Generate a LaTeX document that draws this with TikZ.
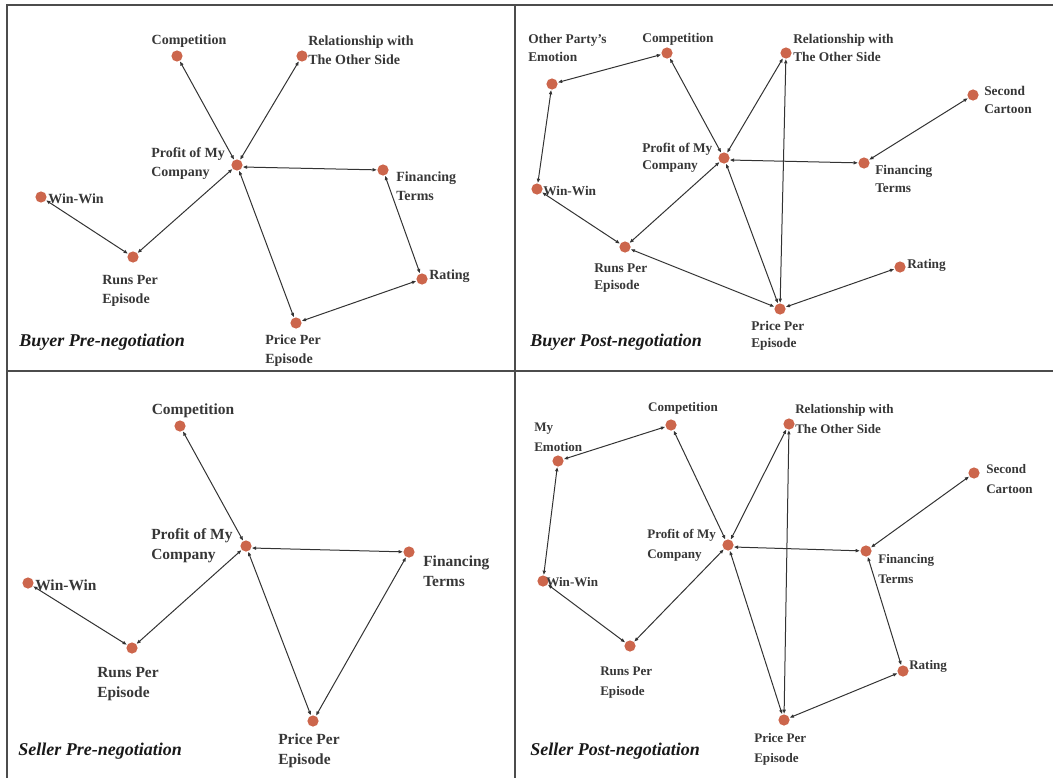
\documentclass[tikz,border=0pt]{standalone}
\usepackage{fontspec}
\setmainfont{Liberation Serif}
\usetikzlibrary{arrows.meta}
\definecolor{dotred}{RGB}{204,102,76}
\definecolor{inkgray}{RGB}{55,55,55}
\tikzset{
  concept/.style={circle,fill=dotred,inner sep=0pt,minimum size=8.4pt},
  tag/.style={text=inkgray,font=\bfseries,align=left,inner sep=0pt,anchor=west},
  link/.style={{Latex[length=3.4pt,width=2.8pt]}-{Latex[length=3.4pt,width=2.8pt]},draw=black!80,line width=0.75pt},
  panelframe/.style={draw=black!70,line width=1.4pt},
  heading/.style={text=black!90,font=\fontsize{13.5}{16}\selectfont\bfseries\itshape,inner sep=0pt,anchor=west}
}
\begin{document}
\begin{tikzpicture}[x=0.75pt,y=-0.75pt]
\useasboundingbox (0,0) rectangle (1053,778);
% frame of the four panels
\draw[panelframe] (6,5) -- (1053,5);
\draw[panelframe] (7,5) -- (7,778);
\draw[panelframe] (515,5) -- (515,778);
\draw[panelframe] (7,371) -- (1053,371);

% Buyer pre-negotiation
\begin{scope}[tag/.append style={font=\fontsize{10.5}{14.25}\selectfont\bfseries}]
\node[concept] (bpComp) at (177,56) {};
\node[concept] (bpRel) at (302,56) {};
\node[concept] (bpProf) at (237,165) {};
\node[concept] (bpFin) at (383,170) {};
\node[concept] (bpWin) at (41,197) {};
\node[concept] (bpRuns) at (133,257) {};
\node[concept] (bpRating) at (422,279) {};
\node[concept] (bpPrice) at (296,323) {};
\node[tag,anchor=center] (bpCompT) at (189,41) {Competition};
\node[tag] (bpRelT) at (308,50) {Relationship with\\The Other Side};
\node[tag] (bpProfT) at (151,164) {Profit of My\\Company};
\node[tag] (bpFinT) at (396,186.5) {Financing\\Terms};
\node[tag] (bpWinT) at (48,199) {Win-Win};
\node[tag] (bpRunsT) at (102,290.5) {Runs Per\\Episode};
\node[tag] (bpRatingT) at (429,276) {Rating};
\node[tag] (bpPriceT) at (265,351) {Price Per\\Episode};
\node[heading] (bpHead) at (19,342) {Buyer Pre-negotiation};
\draw[link] (bpProf) -- (bpComp);
\draw[link] (bpProf) -- (bpRel);
\draw[link] (bpProf.-20) -- (bpFin);
\draw[link] (bpProf) -- (bpRuns);
\draw[link] (bpProf) -- (bpPrice);
\draw[link] (bpWin) -- (bpRuns);
\draw[link] (bpFin) -- (bpRating);
\draw[link] (bpRating) -- (bpPrice);
\end{scope}

% Buyer post-negotiation
\begin{scope}[tag/.append style={font=\fontsize{10}{13.1}\selectfont\bfseries}]
\node[concept] (bqEmo) at (552,84) {};
\node[concept] (bqComp) at (667,53) {};
\node[concept] (bqRel) at (786,53) {};
\node[concept] (bqSec) at (973,95) {};
\node[concept] (bqProf) at (724,158) {};
\node[concept] (bqFin) at (864,163) {};
\node[concept] (bqWin) at (537,189) {};
\node[concept] (bqRuns) at (625,247) {};
\node[concept] (bqRating) at (900,267) {};
\node[concept] (bqPrice) at (780,309) {};
\node[tag] (bqEmoT) at (528,48) {Other Party's\\Emotion};
\node[tag,anchor=center] (bqCompT) at (678,39) {Competition};
\node[tag] (bqRelT) at (793,48) {Relationship with\\The Other Side};
\node[tag] (bqSecT) at (984,100) {Second\\Cartoon};
\node[tag] (bqProfT) at (642,158) {Profit of My\\Company};
\node[tag] (bqFinT) at (875,179) {Financing\\Terms};
\node[tag] (bqWinT) at (543,191) {Win-Win};
\node[tag] (bqRunsT) at (594,278) {Runs Per\\Episode};
\node[tag] (bqRatingT) at (907,265) {Rating};
\node[tag] (bqPriceT) at (751,336) {Price Per\\Episode};
\node[heading] (bqHead) at (530,342) {Buyer Post-negotiation};
\draw[link] (bqEmo) -- (bqComp);
\draw[link] (bqEmo) -- (bqWin);
\draw[link] (bqComp) -- (bqProf);
\draw[link] (bqProf) -- (bqRel);
\draw[link] (bqRel) -- (bqPrice);
\draw[link] (bqProf.-20) -- (bqFin);
\draw[link] (bqFin) -- (bqSec);
\draw[link] (bqProf) -- (bqRuns);
\draw[link] (bqProf) -- (bqPrice);
\draw[link] (bqWin) -- (bqRuns);
\draw[link] (bqRuns) -- (bqPrice);
\draw[link] (bqPrice) -- (bqRating);
\end{scope}

% Seller pre-negotiation
\begin{scope}[tag/.append style={font=\fontsize{11.6}{15}\selectfont\bfseries}]
\node[concept] (spComp) at (180,426) {};
\node[concept] (spProf) at (246,546) {};
\node[concept] (spFin) at (409,552) {};
\node[concept] (spWin) at (28,583) {};
\node[concept] (spRuns) at (132,648) {};
\node[concept] (spPrice) at (313,721) {};
\node[tag,anchor=center] (spCompT) at (193,411) {Competition};
\node[tag] (spProfT) at (151,546) {Profit of My\\Company};
\node[tag] (spFinT) at (423,571) {Financing\\Terms};
\node[tag] (spWinT) at (35,585) {Win-Win};
\node[tag] (spRunsT) at (97,684.5) {Runs Per\\Episode};
\node[tag] (spPriceT) at (278,751) {Price Per\\Episode};
\node[heading] (spHead) at (18,751) {Seller Pre-negotiation};
\draw[link] (spProf) -- (spComp);
\draw[link] (spProf.-20) -- (spFin);
\draw[link] (spProf) -- (spRuns);
\draw[link] (spProf) -- (spPrice);
\draw[link] (spWin) -- (spRuns);
\draw[link] (spFin) -- (spPrice);
\end{scope}

% Seller post-negotiation
\begin{scope}[tag/.append style={font=\fontsize{9.8}{15}\selectfont\bfseries}]
\node[concept] (sqEmo) at (558,461) {};
\node[concept] (sqComp) at (671,425) {};
\node[concept] (sqRel) at (789,424) {};
\node[concept] (sqSec) at (974,473) {};
\node[concept] (sqProf) at (728,545) {};
\node[concept] (sqFin) at (866,551) {};
\node[concept] (sqWin) at (543,581) {};
\node[concept] (sqRuns) at (630,646) {};
\node[concept] (sqRating) at (903,671) {};
\node[concept] (sqPrice) at (784,720) {};
\node[tag] (sqEmoT) at (534,437) {My\\Emotion};
\node[tag,anchor=center] (sqCompT) at (683,408) {Competition};
\node[tag] (sqRelT) at (795,419) {Relationship with\\The Other Side};
\node[tag] (sqSecT) at (986,479) {Second\\Cartoon};
\node[tag] (sqProfT) at (647,545) {Profit of My\\Company};
\node[tag] (sqFinT) at (878,569) {Financing\\Terms};
\node[tag] (sqWinT) at (546,582) {Win-Win};
\node[tag] (sqRunsT) at (600,683) {Runs Per\\Episode};
\node[tag] (sqRatingT) at (909,666) {Rating};
\node[tag] (sqPriceT) at (754,749) {Price Per\\Episode};
\node[heading] (sqHead) at (530,751) {Seller Post-negotiation};
\draw[link] (sqEmo) -- (sqComp);
\draw[link] (sqEmo) -- (sqWin);
\draw[link] (sqComp) -- (sqProf);
\draw[link] (sqProf) -- (sqRel);
\draw[link] (sqRel) -- (sqPrice);
\draw[link] (sqProf.-20) -- (sqFin);
\draw[link] (sqFin) -- (sqSec);
\draw[link] (sqProf) -- (sqRuns);
\draw[link] (sqProf) -- (sqPrice);
\draw[link] (sqWin) -- (sqRuns);
\draw[link] (sqFin) -- (sqRating);
\draw[link] (sqRating) -- (sqPrice);
\end{scope}
\end{tikzpicture}
\end{document}
